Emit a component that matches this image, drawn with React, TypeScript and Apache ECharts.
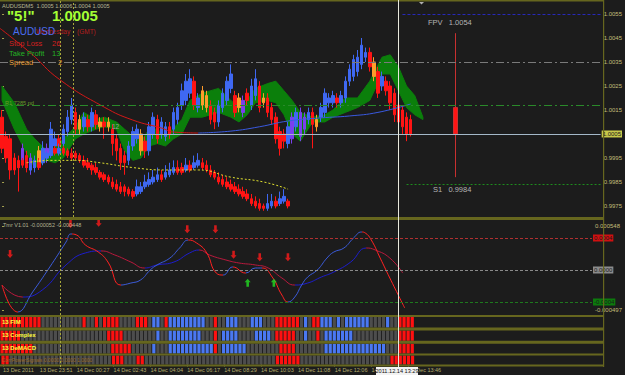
import React, { useEffect, useRef } from "react";
import * as echarts from "echarts";

const BG = "#1c1c1c";
const OLIVE = "#66661e";
const AXIS_TEXT = "#c4bc78";
const FONT = "'Liberation Sans Narrow','Liberation Sans',Arial,sans-serif";
const SLOTS = 147;

// ---------- tick labels ----------
const PRICE_TICKS = [0.9975, 0.9985, 0.9995, 1.0005, 1.0015, 1.0025, 1.0035, 1.0045, 1.0055];
const PRICE_MIN = 0.99704;
const PRICE_MAX = 1.006;
const OSC_MIN = -0.0005625;
const OSC_MAX = 0.000625;
const OSC_EDGE_TICKS = [0.000548, -0.000497];
const TIME_LABELS = [
  "13 Dec 2011", "13 Dec 23:51", "14 Dec 00:27", "14 Dec 02:43", "14 Dec 04:04", "14 Dec 06:17",
  "14 Dec 08:29", "14 Dec 10:03", "14 Dec 11:08", "14 Dec 12:06", "14 Dec 12:51", "14 Dec 13:46",
];
const TIME_LABEL_STEP = 9;

// ---------- main candles (pips over 1.0000) ----------
const CANDLE_OPEN = [12,4,3,-5,-6,-7,-4,-10,-9,-7,
  -6,-5,-2,0,3,1,6,11,14,7,
  8,11,8,13,8,10,8,7,3,-1,
  -4,-6,0,3,5,2,-2,5,11,5,
  4,8,7,11,17,19,22,27,16,17,
  21,17,14,10,16,19,24,21,16,14,
  22,17,21,25,18,20,16,12,6,5,
  1,3,8,4,7,11,14,8,12,14,
  18,18,20,18,20,27,29,31,34,37,
  39,35,31,25,27,25,22,17,15,12,11];
const CANDLE_CLOSE = [-1,-5,-10,-10,-9,-1,-9,-5,-6,-2,
  -1,-1,7,3,0,7,12,17,7,11,
  12,8,14,9,10,8,10,1,-2,-7,
  -7,0,6,7,-2,-2,8,12,3,10,
  8,5,14,16,23,27,28,17,20,23,
  16,11,10,17,22,27,30,14,20,19,
  19,25,28,16,20,14,11,3,-1,2,
  8,12,14,14,12,14,9,11,16,22,
  20,21,18,21,27,32,36,37,42,39,
  33,29,22,29,23,18,13,10,8,5,5];
const CANDLE_HIGH = [15,6,5,-3,-4,1,-2,-3,-4,0,
  2,1,10,6,5,9,15,20,16,13,
  14,13,16,15,12,12,12,9,5,1,
  -2,2,8,9,7,4,10,14,13,12,
  10,10,16,18,26,30,32,29,22,25,
  23,19,16,19,24,29,34,23,22,21,
  24,28,32,27,22,22,18,14,8,7,
  10,14,16,16,14,16,16,13,18,24,
  22,23,22,23,29,34,38,40,45,41,
  41,37,33,31,29,27,24,19,17,14,13];
const CANDLE_LOW = [-3,-7,-14,-12,-19,-9,-11,-12,-11,-9,
  -8,-7,-4,-2,-2,-1,4,9,5,5,
  6,6,6,7,6,3,6,-4,-6,-10,
  -12,-8,-2,1,-4,-5,-4,3,1,3,
  2,3,5,9,15,17,20,15,14,15,
  14,9,7,8,14,17,22,12,14,12,
  17,15,19,14,16,12,9,1,-4,-1,
  -1,1,6,2,5,9,-1,6,10,12,
  16,16,16,16,18,25,27,29,32,35,
  31,27,20,23,21,15,10,7,5,2,4];
const CANDLE_TYPES = "rrrrrprpbo" + "bpbbrbbbro" + "brbrororrr" + "rbbborbbrb" + "brbbbbbrbo" +
  "orrbbbbrop" + "rbbrorrrrr" + "bpbppbrobb" + "bbrbbbbbbb" + "rorbrrrrrrr";

// ---------- lower small candles (pips) ----------
const SUB_START = 4;
const SUB_OPEN = [-7,-6,-7,-10,-9,-7,-7,-5,-4,-1,-3,-1,-2,-3,-3,-4,-6,-7,-8,-9,-11,-12,-13,-15,-16,-17,-17,-18,-19,-20,
  -19,-17,-16,-15,-14,-12,-13,-12,-11,-9,-9,-10,-8,-9,-8,-7,-8,-10,-11,-13,-14,-15,-16,-17,-18,-19,-20,-22,-23,-24,
  -25,-26,-25,-23,-24,-23,-23];
const SUB_CLOSE = [-9,-8,-9,-8,-7,-9,-5,-3,-2,-3,-1,-3,-4,-5,-5,-6,-8,-9,-10,-11,-13,-14,-15,-17,-18,-19,-19,-20,-21,-17,
  -17,-15,-14,-13,-12,-14,-11,-10,-9,-11,-11,-8,-10,-7,-6,-9,-10,-12,-13,-15,-16,-17,-18,-19,-20,-21,-22,-24,-25,-26,
  -26,-24,-23,-25,-22,-21,-25];
const SUB_HIGH = [-6,-5,-6,-7,-6,-5,-3,-2,0,0,1,0,-1,-1,-2,-3,-4,-5,-7,-7,-10,-11,-12,-13,-14,-15,-16,-17,-18,-14,
  -15,-12,-11,-10,-9,-10,-8,-7,-6,-6,-7,-5,-6,-4,-3,-5,-6,-8,-10,-11,-12,-13,-14,-15,-16,-17,-18,-20,-21,-22,
  -24,-20,-20,-21,-19,-18,-22];
const SUB_LOW = [-10,-9,-10,-11,-10,-10,-8,-6,-5,-4,-4,-4,-5,-6,-6,-7,-9,-10,-12,-12,-14,-15,-16,-18,-19,-20,-21,-21,-22,-21,
  -20,-18,-17,-16,-15,-15,-14,-13,-12,-12,-12,-11,-11,-10,-9,-10,-11,-13,-14,-16,-17,-18,-19,-20,-21,-22,-23,-25,-26,-27,
  -27,-27,-26,-26,-25,-24,-26];

// ---------- forecast (FPV) candle ----------
const FPV_INDEX = 111;
const FPV_OHLC = [16, 5, -13, 47];

// ---------- indicator lines in main window (index, pips) ----------
const RED_MA = [[-0.5, 49], [7, 38.7], [14, 27.8], [25, 16.2], [32, 10.8], [39, 7.5], [42, 5.8], [48, 5.4]];
const BLUE_MA = [[48, 5.4], [56, 6.2], [63, 8], [70, 10.4], [78, 11.7], [85, 12.5], [92, 14], [100, 17.5]];
const YELLOW_DOTS = [[6, -7], [12, -6], [18, -6], [24, -7], [32, -9], [40, -10], [48, -10], [56, -13], [64, -15], [70, -18]];
const CLOUD_X = [0,3,6,8,11,13,15,18,20,23,25,28,30,32,34,36,38,40,42,44,46,49,53,56,58,60,62,65,67,69,71,73,76,79,81,84,87,90,93,95,97,99,101,103];
const CLOUD_UP = [25,18,7,3,-2,-0.5,3,8,14,11,12,10,7,4,2,7,7,4,7.5,11,19,22,24,19,16,19,24,26,27,23,19,14,12,13,15,20,20,27,37,38,33,25,21,12];
const CLOUD_LO = [19,7,-3,-9,-6,-7,-5,3,5,7,8,7,-2,-6,-5,0,1,0,3,5,12,12,14,12,10,13,18,19,18,13,5,2,10,10,12,14,16,19,30,30,23,16,13,11];

// ---------- price levels ----------
const LEVEL_FPV = 1.0055;
const LEVEL_PIVOT = 1.0035;
const LEVEL_R1 = 1.0017;
const LEVEL_BID = 1.0005;
const LEVEL_S1 = 0.9984;

// ---------- oscillator ----------
const FAST_X = [0,3.9,7.6,11.7,15.9,17.1,18.5,20.7,23.9,26.3,29.5,32,34.4,36.8,38.5,41.7,44.1,46.3,48.3,50.7,53.2,54.9,57.3,60.5,62.9,64.6,67.1,69.5,71,72.7,74.4,75.9,78.3,80.7,82.4,84.9,87.3,89.3,90.2,91.7,93.9,96.3,100];
const FAST_V = [-0.000188,-0.000525,-0.000275,0.000025,0.00035,0.00045,0.000438,0.000313,0.000225,0.0001,-0.000188,-0.000163,-0.000125,0,0.000063,0.00015,0.000275,0.000375,0.000338,0.000225,-0.000038,-0.000063,0.000038,-0.000038,0.000025,0.000025,-0.000088,-0.000313,-0.0004,-0.000338,-0.000188,-0.000088,0,0.00015,0.000225,0.000275,0.0004,0.000475,0.000463,0.000375,0.00015,-0.0001,-0.000475];
const SLOW_X = [0,5.1,10,15.9,20.7,24.6,28,32,35.4,38.5,42.7,46.6,49,51.5,55.6,58.8,62.9,66.1,69.5,72.7,75.9,79.3,82.4,86.6,90.5,92.7,96.3,99.5];
const SLOW_V = [-0.000188,-0.000338,-0.00025,0.000063,0.000213,0.000238,0.000188,0.0001,0.000025,0.000063,0.0001,0.000213,0.00025,0.000188,0.000125,0.000088,0.000063,0.000025,-0.0001,-0.000188,-0.000163,-0.000088,-0.000025,0.0001,0.000275,0.00025,0.00015,-0.000038];
const FAST_SWITCH = [3.9, 17.5, 29.5, 46.3, 54.9, 57.3, 60.5, 64.6, 71, 89.3];
const SLOW_SWITCH = [5.1, 24.6, 35.4, 49, 72.7, 90.5];
const OSC_LEVELS = [0.0004, 0, -0.0004];
const ARROWS_DOWN = [[2, 0.0002], [17, 0.000575], [24, 0.00059], [46, 0.00051], [53, 0.00051], [57.5, 0.00019], [64, 0.00016], [71, 0.00016]];
const ARROWS_UP = [[61, -0.00016], [67.5, -0.00016]];

// ---------- signal rows ----------
const ROW_NAMES = ["13 FIM", "13 Complex", "13 DeMACD", "CorrPowerSignals 0.0000 0.0000 1.0000"];
const ROW_FIM = "RRRRRRRRRR" + "GGGGGGGGGG" + "R" + "GG" + "R" + "G" + "RRRR" + "GGGG" + "RRR" + "G" + "BB" + "G" + "R" +
  "BBBBBBBBB" + "GG" + "R" + "GG" + "BBB" + "GGG" + "BBB" + "GGG" + "RRRRRR" + "G" + "B" + "G" + "RR" + "BBB" + "G" + "B" +
  "G" + "BBBBBB" + "GGGG" + "B" + "GG" + "RRRR";
const ROW_COMPLEX = "RRRRR" + "GGGGGGGGGGGGGGGGGGGGG" + "RRRR" + "GGGGGGGG" + "B" + "GG" + "BBBBBBBB" + "GGG" + "R" + "G" +
  "BBBB" + "GGGG" + "BBBB" + "G" + "RRRRR" + "GG" + "B" + "GG" + "R" + "G" + "BBBBBBB" + "GGGGGGGGGGG" + "RRRR";
const ROW_DEMACD = "RRRRRRRR" + "GGGGGGGGGGGGGGGGGGG" + "RRRRR" + "GGGGG" + "B" + "GGG" + "BBBBBBBBBBB" + "R" + "G" +
  "BBBBBB" + "GGGGGGGG" + "RRRR" + "GGGGGGG" + "BBBBBBBBBBBBBBB" + "GGG" + "RRRR";
const ROW_CORR = "RR" + "GGGGGGGGGGGGGGGGGGGGGGGGG" + "RRR" + "GGG" + "RR" + "GGGGGGGGGGGGGGGGGGGGGGGGGGGGGGGG" + "RRRRRR" +
  "GGGGGGGGGGGGGGGGGGGGGG" + "RRRRRR";
const ROWS = [ROW_FIM, ROW_COMPLEX, ROW_DEMACD, ROW_CORR];

const YELLOW_VLINE = 14.1;
const YELLOW_VLINE_MAIN = 17.5;
const WHITE_VLINE = 96.5;

const pip = (p: number) => +(1 + p / 10000).toFixed(5);
const CANDLE_COLORS: Record<string, string> = { r: "#ff1414", b: "#3f68f2", o: "#ff9c2a", p: "#7a40ee" };
const ROW_COLORS: Record<string, string> = { R: "#ff1010", B: "#4a78f2", G: "#4d4d4d" };

function colorPieces(switches: number[], first: string, second: string) {
  const pieces: any[] = [];
  let prev: number | null = null;
  switches.forEach((s, k) => {
    const color = k % 2 === 0 ? first : second;
    pieces.push(prev === null ? { lt: s, color } : { gte: prev, lt: s, color });
    prev = s;
  });
  pieces.push({ gte: prev, color: switches.length % 2 === 0 ? first : second });
  return pieces;
}

function buildOption() {
  const mainCandles = CANDLE_OPEN.map((o, i) => {
    const c = CANDLE_COLORS[CANDLE_TYPES[i]] || "#ff1414";
    return {
      value: [i, pip(o), pip(CANDLE_CLOSE[i]), pip(CANDLE_LOW[i]), pip(CANDLE_HIGH[i])],
      itemStyle: { color: c, color0: c, borderColor: c, borderColor0: c },
    };
  });
  const subCandles = SUB_OPEN.map((o, k) => {
    const c = SUB_CLOSE[k] < o ? "#ff1414" : "#3f68f2";
    return {
      value: [SUB_START + k, pip(o), pip(SUB_CLOSE[k]), pip(SUB_LOW[k]), pip(SUB_HIGH[k])],
      itemStyle: { color: c, color0: c, borderColor: c, borderColor0: c },
    };
  });
  const fpv = [{ value: [FPV_INDEX, pip(FPV_OHLC[0]), pip(FPV_OHLC[1]), pip(FPV_OHLC[2]), pip(FPV_OHLC[3])] }];
  const cloudData = CLOUD_X.map((x, k) => [x, pip(CLOUD_UP[k]), pip(CLOUD_LO[k])]);

  const slotNames = Array.from({ length: SLOTS }, (_, i) => String(i));
  const timeSlotNames = Array.from({ length: SLOTS }, (_, i) =>
    i % TIME_LABEL_STEP === 0 && i / TIME_LABEL_STEP < TIME_LABELS.length ? TIME_LABELS[i / TIME_LABEL_STEP] : ""
  );

  const rowGrids = [
    { top: 317, height: 10.5 },
    { top: 330.5, height: 10.3 },
    { top: 343.8, height: 9.7 },
    { top: 355.5, height: 9 },
  ];

  const grid: any[] = [
    { left: 0, top: 2, width: 603, height: 215 },
    { left: 0, top: 220, width: 603, height: 95 },
    ...rowGrids.map((g) => ({ left: 0, width: 603, ...g })),
    { left: 0, top: 0, width: 603, height: 367 },
  ];

  const hiddenCat = (gridIndex: number) => ({ type: "category", gridIndex, data: slotNames, show: false });
  const hiddenVal = (gridIndex: number) => ({ type: "value", gridIndex, min: -0.5, max: SLOTS - 0.5, show: false });

  const xAxis: any[] = [
    hiddenCat(0),
    hiddenVal(0),
    hiddenVal(1),
    hiddenCat(2),
    hiddenCat(3),
    hiddenCat(4),
    {
      type: "category",
      gridIndex: 5,
      data: timeSlotNames,
      axisLine: { show: false },
      axisTick: {
        show: true,
        alignWithLabel: true,
        interval: (i: number) => i % TIME_LABEL_STEP === 0 && i / TIME_LABEL_STEP < TIME_LABELS.length,
        length: 2,
        lineStyle: { color: "#9a9440" },
      },
      axisLabel: {
        interval: 0,
        align: "left",
        margin: 2.5,
        color: "#b4ac6c",
        fontSize: 5.5,
        fontFamily: FONT,
      },
      splitLine: { show: false },
    },
    hiddenVal(6),
  ];

  const rowY = (gridIndex: number) => ({ type: "value", gridIndex, min: 0, max: 1, show: false });
  const yAxis: any[] = [
    {
      type: "value",
      gridIndex: 0,
      position: "right",
      min: PRICE_MIN,
      max: PRICE_MAX,
      splitLine: { show: false },
      axisLine: { show: false },
      axisTick: { show: true, customValues: PRICE_TICKS, length: 2, lineStyle: { color: "#a4a050" } },
      axisLabel: {
        customValues: PRICE_TICKS,
        formatter: (v: number) => v.toFixed(4),
        color: AXIS_TEXT,
        fontSize: 6,
        fontFamily: FONT,
        margin: 3,
      },
    },
    {
      type: "value",
      gridIndex: 1,
      position: "right",
      min: OSC_MIN,
      max: OSC_MAX,
      splitLine: { show: false },
      axisLine: { show: false },
      axisTick: { show: true, customValues: OSC_EDGE_TICKS, length: 2, lineStyle: { color: "#a4a050" } },
      axisLabel: {
        customValues: OSC_EDGE_TICKS,
        formatter: (v: number) => v.toFixed(6),
        color: AXIS_TEXT,
        fontSize: 6,
        fontFamily: FONT,
        margin: 3,
      },
    },
    rowY(2),
    rowY(3),
    rowY(4),
    rowY(5),
    { type: "value", gridIndex: 6, min: 0, max: 1, show: false },
  ];

  const noLine = { opacity: 0 };
  const lvlLabel = (text: string, bg: string) => ({
    show: true,
    position: "end",
    formatter: text,
    distance: 1,
    backgroundColor: bg,
    color: "#1a1a1a",
    fontSize: 6,
    fontFamily: FONT,
    padding: [1, 1, 0, 1],
  });

  const series: any[] = [
    {
      type: "custom",
      name: "cloud",
      xAxisIndex: 1,
      yAxisIndex: 0,
      z: 1,
      silent: true,
      data: cloudData,
      encode: { x: 0, y: [1, 2] },
      renderItem: (params: any, api: any) => {
        if (params.dataIndex !== 0) return null;
        const upper = cloudData.map((d) => api.coord([d[0], d[1]]));
        const lower = cloudData.map((d) => api.coord([d[0], d[2]])).reverse();
        return { type: "polygon", shape: { points: upper.concat(lower) }, style: { fill: "#0b7f0b", stroke: "#0b7f0b" } };
      },
    },
    {
      type: "line",
      name: "levels",
      xAxisIndex: 1,
      yAxisIndex: 0,
      data: [[0, LEVEL_BID]],
      symbol: "none",
      lineStyle: noLine,
      silent: true,
      z: 2,
      markLine: {
        silent: true,
        precision: 10,
        symbol: ["none", "none"],
        label: { show: false },
        data: [
          [
            { coord: [98, LEVEL_FPV], lineStyle: { color: "#2828b8", type: [3, 2], width: 1 } },
            { coord: [SLOTS - 0.5, LEVEL_FPV], lineStyle: { color: "#2828b8", type: [3, 2], width: 1 } },
          ],
          { yAxis: LEVEL_PIVOT, lineStyle: { color: "#7a7a7a", type: [8, 3, 2, 3], width: 1 } },
          { yAxis: LEVEL_R1, lineStyle: { color: "#2a8a2a", type: [8, 3, 2, 3], width: 1 } },
          { yAxis: LEVEL_BID, lineStyle: { color: "#a4b8c8", type: "solid", width: 1 }, label: lvlLabel("1.0005", "#c8c84a") },
          [
            { coord: [99, LEVEL_S1], lineStyle: { color: "#1e8c1e", type: [2, 2], width: 1 } },
            { coord: [SLOTS - 0.5, LEVEL_S1], lineStyle: { color: "#1e8c1e", type: [2, 2], width: 1 } },
          ],
          { xAxis: YELLOW_VLINE_MAIN, lineStyle: { color: "#a8a83a", type: [2, 2], width: 1 } },
        ],
      },
    },
    {
      type: "line",
      name: "redMA",
      xAxisIndex: 1,
      yAxisIndex: 0,
      data: RED_MA.map(([x, p]) => [x, pip(p)]),
      smooth: true,
      symbol: "none",
      lineStyle: { color: "#d41818", width: 1 },
      z: 4,
      silent: true,
    },
    {
      type: "line",
      name: "blueMA",
      xAxisIndex: 1,
      yAxisIndex: 0,
      data: BLUE_MA.map(([x, p]) => [x, pip(p)]),
      smooth: true,
      symbol: "none",
      lineStyle: { color: "#3a5ae0", width: 1 },
      z: 4,
      silent: true,
    },
    {
      type: "line",
      name: "yellowDots",
      xAxisIndex: 1,
      yAxisIndex: 0,
      data: YELLOW_DOTS.map(([x, p]) => [x, pip(p)]),
      smooth: true,
      symbol: "none",
      lineStyle: { color: "#e0e030", width: 1, type: [2, 2] },
      z: 4,
      silent: true,
    },
    {
      type: "candlestick",
      name: "price",
      xAxisIndex: 0,
      yAxisIndex: 0,
      barWidth: 3,
      data: mainCandles,
      encode: { x: 0, y: [1, 2, 3, 4] },
      z: 3,
      silent: true,
    },
    {
      type: "candlestick",
      name: "sub",
      xAxisIndex: 0,
      yAxisIndex: 0,
      barWidth: 3,
      data: subCandles,
      encode: { x: 0, y: [1, 2, 3, 4] },
      z: 3,
      silent: true,
    },
    {
      type: "candlestick",
      name: "fpv",
      xAxisIndex: 0,
      yAxisIndex: 0,
      barWidth: 5,
      data: fpv,
      encode: { x: 0, y: [1, 2, 3, 4] },
      itemStyle: { color: "#ff1414", color0: "#ff1414", borderColor: "#c83030", borderColor0: "#c83030", borderWidth: 1 },
      z: 3,
      silent: true,
    },
    // oscillator
    {
      type: "line",
      name: "oscLevels",
      xAxisIndex: 2,
      yAxisIndex: 1,
      data: [[0, 0]],
      symbol: "none",
      lineStyle: noLine,
      silent: true,
      markLine: {
        silent: true,
        precision: 10,
        symbol: ["none", "none"],
        data: [
          { yAxis: OSC_LEVELS[0], lineStyle: { color: "#b03030", type: [3, 2], width: 1 }, label: lvlLabel("0.0004", "#d01010") },
          { yAxis: OSC_LEVELS[1], lineStyle: { color: "#8a8a8a", type: [3, 2], width: 1 }, label: lvlLabel("0.0000", "#8c8c8c") },
          { yAxis: OSC_LEVELS[2], lineStyle: { color: "#1e781e", type: [3, 2], width: 1 }, label: lvlLabel("-0.0004", "#0c7a0c") },
        ],
      },
    },
    {
      type: "line",
      name: "slow",
      xAxisIndex: 2,
      yAxisIndex: 1,
      data: SLOW_X.map((x, k) => [x, SLOW_V[k]]),
      smooth: true,
      symbol: "none",
      lineStyle: { width: 1 },
      z: 3,
      silent: true,
    },
    {
      type: "line",
      name: "fast",
      xAxisIndex: 2,
      yAxisIndex: 1,
      data: FAST_X.map((x, k) => [x, FAST_V[k]]),
      smooth: true,
      symbol: "none",
      lineStyle: { width: 1 },
      z: 4,
      silent: true,
    },
    {
      type: "scatter",
      name: "sell",
      xAxisIndex: 2,
      yAxisIndex: 1,
      data: ARROWS_DOWN,
      symbol: "path://M2,0H5V5H7L3.5,9L0,5H2Z",
      symbolSize: [6, 8],
      itemStyle: { color: "#ff1a1a" },
      z: 5,
      silent: true,
    },
    {
      type: "scatter",
      name: "buy",
      xAxisIndex: 2,
      yAxisIndex: 1,
      data: ARROWS_UP,
      symbol: "path://M3.5,0L7,4H5V9H2V4H0Z",
      symbolSize: [6, 8],
      itemStyle: { color: "#22dd22" },
      z: 5,
      silent: true,
    },
    ...ROWS.map((s, r) => ({
      type: "bar",
      name: "row" + r,
      xAxisIndex: 3 + r,
      yAxisIndex: 2 + r,
      barWidth: 3.2,
      silent: true,
      data: s.split("").map((ch) => ({ value: 1, itemStyle: { color: ROW_COLORS[ch] } })),
    })),
    {
      type: "line",
      name: "overlay",
      xAxisIndex: 7,
      yAxisIndex: 6,
      data: [[0, 0.5]],
      symbol: "none",
      lineStyle: noLine,
      silent: true,
      z: 30,
      markLine: {
        silent: true,
        precision: 10,
        z: 40,
        symbol: ["none", "none"],
        label: { show: false },
        data: [
          { xAxis: YELLOW_VLINE, lineStyle: { color: "#a8a83a", type: [2, 2], width: 1 } },
          { xAxis: WHITE_VLINE, lineStyle: { color: "#e8e8dc", type: "solid", width: 1 } },
        ],
      },
    },
  ];

  const fastIdx = series.findIndex((s) => s.name === "fast");
  const slowIdx = series.findIndex((s) => s.name === "slow");

  const visualMap: any[] = [
    { type: "piecewise", show: false, seriesIndex: fastIdx, dimension: 0, pieces: colorPieces(FAST_SWITCH, "#ff2020", "#3a5ad8") },
    { type: "piecewise", show: false, seriesIndex: slowIdx, dimension: 0, pieces: colorPieces(SLOW_SWITCH, "#b8183c", "#1c1ccc") },
  ];

  const txt = (text: string, x: number, y: number, fill: string, fontSize: number, extra: any = {}, z = 25) => ({
    type: "text",
    x,
    y,
    z,
    silent: true,
    style: { text, fill, fontSize, fontFamily: FONT, verticalAlign: "top", ...extra },
  });
  const sep = (y: number, h: number) => ({
    type: "rect",
    z: 20,
    silent: true,
    shape: { x: 0, y, width: 603, height: h },
    style: { fill: OLIVE },
  });

  const graphic: any[] = [
    sep(0, 1.5),
    sep(217, 3),
    sep(315, 2),
    sep(327.5, 3),
    sep(340.8, 3),
    sep(353.5, 2),
    sep(364.5, 2),
    { type: "rect", z: 20, silent: true, shape: { x: 603, y: 0, width: 1.2, height: 367 }, style: { fill: OLIVE } },
    { type: "polygon", z: 25, silent: true, shape: { points: [[419, 2], [424, 2], [421.5, 4.5]] }, style: { fill: "#b0b0b0" } },
    txt("AUDUSDM5  1.0005 1.0006 1.0004 1.0005", 2, 3, "#b8b894", 5.6),
    txt('"5!"', 7, 8, "#a4ff34", 15, { fontWeight: "bold", fontFamily: "'Liberation Sans',Arial,sans-serif" }),
    txt("1.0005", 52, 8, "#a4ff34", 15, { fontWeight: "bold", fontFamily: "'Liberation Sans',Arial,sans-serif" }),
    txt("Wednesday", 36, 28, "#b81c1c", 6.5),
    txt("(GMT)", 77, 28, "#b81c1c", 6.5),
    txt("AUDUSD", 13, 26.5, "#4a6ef2", 10, { fontFamily: "'Liberation Sans',Arial,sans-serif" }),
    txt("Stop Loss", 9, 39.5, "#d42020", 7.5),
    txt("26", 52, 39.5, "#d42020", 7.5),
    txt("Take Profit", 9, 49, "#24b424", 7.5),
    txt("13", 52, 49, "#24b424", 7.5),
    txt("Spread", 9, 58.5, "#e09830", 7.5),
    txt("2", 58, 58.5, "#e09830", 7.5),
    txt("R1 7285 pd", 5, 100, "#6a9a2a", 5.6),
    txt("12", 112, 122.5, "#a0a0a0", 6.5),
    txt("FPV   1.0054", 428, 18.5, "#b4b4b4", 7.5),
    txt("S1   0.9984", 433, 185.5, "#b4b4b4", 7.5),
    txt("Tmr V1.01 -0.000052 -0.000448", 3, 222, "#b4b494", 5.5),
    txt(ROW_NAMES[0], 2, 319, "#ffff3c", 6, { fontWeight: "bold" }),
    txt(ROW_NAMES[1], 2, 332.2, "#ffff3c", 6, { fontWeight: "bold" }),
    txt(ROW_NAMES[2], 2, 345.3, "#ffff3c", 6, { fontWeight: "bold" }),
    txt(ROW_NAMES[3], 2, 357.5, "#9a6a24", 5),
    { type: "rect", z: 26, silent: true, shape: { x: 376, y: 367, width: 42, height: 8 }, style: { fill: "#f2f2f2" } },
    txt("2011.12.14 13:29", 397, 368.3, "#111111", 5.6, { align: "center" }, 28),
  ];

  return {
    animation: false,
    backgroundColor: BG,
    grid,
    xAxis,
    yAxis,
    visualMap,
    series,
    graphic,
  };
}

export default function App() {
  const ref = useRef<HTMLDivElement>(null);
  useEffect(() => {
    if (!ref.current) return;
    const chart = echarts.init(ref.current, null, { renderer: "svg" });
    chart.setOption(buildOption() as any);
    return () => chart.dispose();
  }, []);
  return (
    <div
      ref={ref}
      style={{ position: "fixed", left: 0, top: 0, width: 625, height: 375, background: BG }}
    />
  );
}
